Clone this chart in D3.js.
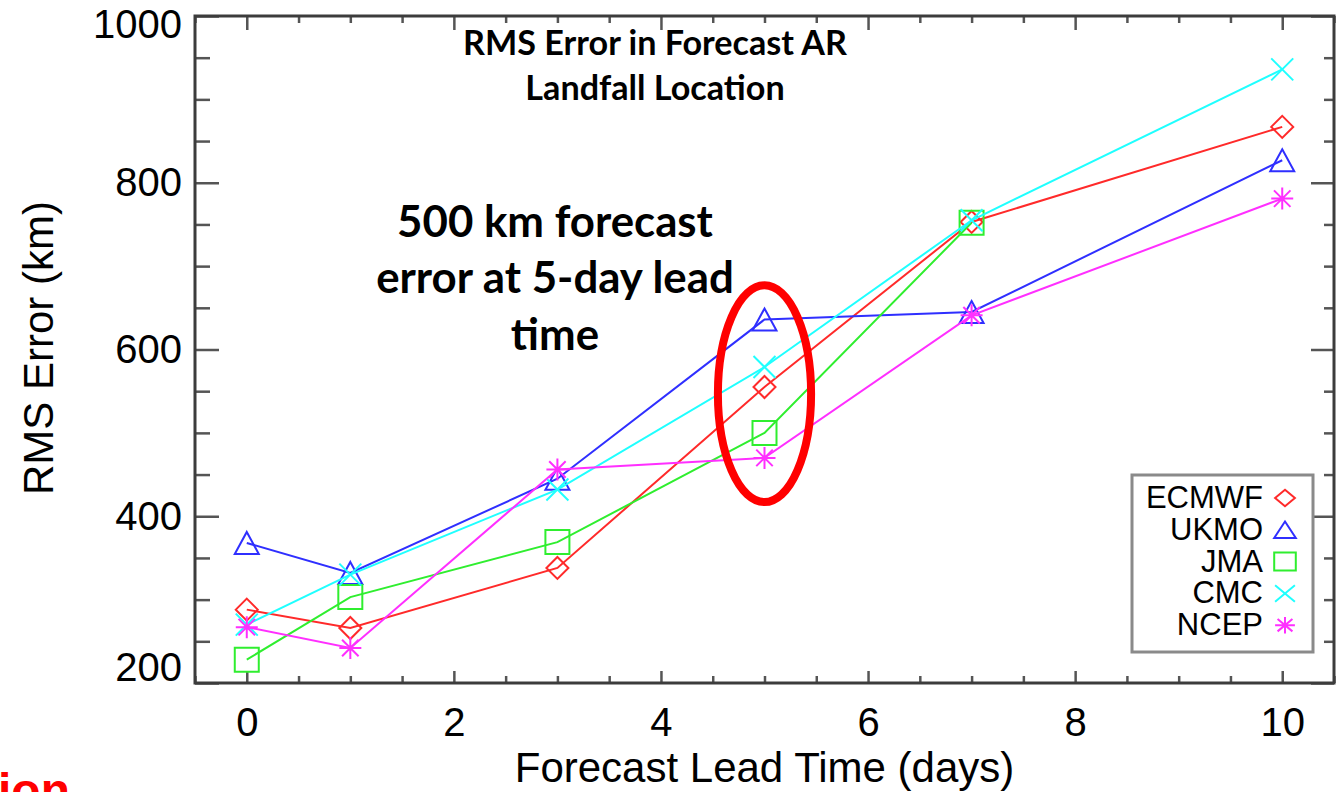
<!DOCTYPE html>
<html>
<head>
<meta charset="utf-8">
<script src="https://cdn.jsdelivr.net/npm/d3@7"></script>
<style>
  html, body { margin: 0; padding: 0; background: #fff; }
  svg { display: block; }
</style>
</head>
<body>
<div id="chart"></div>
<script>
// values
const days = [0, 1, 3, 5, 7, 10];
const seriesNames = ["ECMWF", "UKMO", "JMA", "CMC", "NCEP"];
const ecmwf = [288, 266, 338, 555, 753, 867];
const ukmo = [368, 332, 445, 636, 645, 827];
const jma = [228, 303, 369, 500, 752, null];
const cmc = [270, 330, 432, 579, 755, 936];
const ncep = [267, 242, 456, 470, 641, 781];
const xTicks = [0, 2, 4, 6, 8, 10];
const yTicks = [200, 400, 600, 800, 1000];
const titleLines = ["RMS Error in Forecast AR", "Landfall Location"];
const noteLines = ["500 km forecast", "error at 5-day lead", "time"];

const seriesValues = [ecmwf, ukmo, jma, cmc, ncep];
const colors = ["#ff2a2a", "#2f2fff", "#2fee2f", "#1fffff", "#ff2fff"];
const symbols = ["diamond", "triangle", "square", "cross", "asterisk"];

function initChart(selector) {
    const W = 1337, H = 792;
    const box = {left: 195, right: 1334, top: 16, bottom: 683};

    const x = d3.scaleLinear().domain([-0.5, 10.5]).range([box.left, box.right]);
    const y = d3.scaleLinear().domain([200, 1000]).range([box.bottom, box.top]);

    const svg = d3.select(selector).append("svg")
        .attr("width", W)
        .attr("height", H);
    svg.append("rect").attr("width", W).attr("height", H).attr("fill", "#fff");

    const tickColor = "#555";
    const minorX = d3.range(-0.5, 10.51, 0.5).filter(v => v % 2 !== 0);
    const minorY = d3.range(200, 1001, 50).filter(v => v % 200 !== 0);

    function ticks(axis, transform) {
        const g = svg.append("g").attr("transform", transform).call(axis);
        g.select(".domain").remove();
        g.selectAll(".tick line").attr("stroke", tickColor).attr("stroke-width", 2.5);
        return g;
    }

    // minor ticks on all four sides
    ticks(d3.axisBottom(x).tickValues(minorX).tickSize(-7).tickFormat(""), `translate(0,${box.bottom})`);
    ticks(d3.axisTop(x).tickValues(minorX).tickSize(-7).tickFormat(""), `translate(0,${box.top})`);
    ticks(d3.axisLeft(y).tickValues(minorY).tickSize(-15).tickFormat(""), `translate(${box.left},0)`);
    ticks(d3.axisRight(y).tickValues(minorY).tickSize(-10).tickFormat(""), `translate(${box.right},0)`);

    // major ticks
    const xAxis = ticks(d3.axisBottom(x).tickValues(xTicks).tickSize(-12).tickPadding(25)
        .tickFormat(d3.format("d")), `translate(0,${box.bottom})`);
    ticks(d3.axisTop(x).tickValues(xTicks).tickSize(-14).tickFormat(""), `translate(0,${box.top})`);
    const yAxis = ticks(d3.axisLeft(y).tickValues(yTicks).tickSize(-24).tickPadding(13)
        .tickFormat(d3.format("d")), `translate(${box.left},0)`);
    ticks(d3.axisRight(y).tickValues(yTicks).tickSize(-23).tickFormat(""), `translate(${box.right},0)`);

    [xAxis, yAxis].forEach(g => g.selectAll("text")
        .attr("fill", "#000")
        .attr("font-family", "Liberation Sans, Arial, sans-serif")
        .attr("font-size", 40));
    // end labels are pulled inside the frame
    yAxis.selectAll(".tick text")
        .attr("y", d => d === 1000 ? 9 : d === 200 ? -15 : 0);

    svg.append("rect")
        .attr("x", box.left).attr("y", box.top)
        .attr("width", box.right - box.left).attr("height", box.bottom - box.top)
        .attr("fill", "none").attr("stroke", "#3c3c3c").attr("stroke-width", 3);

    // axis titles
    svg.append("text")
        .attr("x", x(5)).attr("y", 782)
        .attr("text-anchor", "middle")
        .attr("font-family", "Liberation Sans, Arial, sans-serif")
        .attr("font-size", 42)
        .text("Forecast Lead Time (days)");
    svg.append("text")
        .attr("transform", "translate(53,348) rotate(-90)")
        .attr("text-anchor", "middle")
        .attr("font-family", "Liberation Sans, Arial, sans-serif")
        .attr("font-size", 42)
        .text("RMS Error (km)");

    // marker shapes
    function marker(g, type, color, sx, sy) {
        const s = 11;
        const p = g.append("path")
            .attr("fill", "none").attr("stroke", color).attr("stroke-width", 2);
        let d;
        if (type === "diamond") d = `M0,${-s}L${s},0L0,${s}L${-s},0Z`;
        else if (type === "triangle") d = `M0,${-s}L${s + 1},${s}L${-s - 1},${s}Z`;
        else if (type === "square") d = `M${-s - 1},${-s - 1}H${s + 1}V${s + 1}H${-s - 1}Z`;
        else if (type === "cross") d = `M${-s},${-s}L${s},${s}M${-s},${s}L${s},${-s}`;
        else d = `M0,${-s}V${s}M${-s},0H${s}M${-s * 0.75},${-s * 0.75}L${s * 0.75},${s * 0.75}M${-s * 0.75},${s * 0.75}L${s * 0.75},${-s * 0.75}`;
        p.attr("d", d);
        if (sx) p.attr("transform", `scale(${sx},${sy})`).attr("vector-effect", "non-scaling-stroke");
    }

    const line = d3.line()
        .defined(p => p.v != null)
        .x(p => x(p.d))
        .y(p => y(p.v));

    seriesValues.forEach((vals, i) => {
        const pts = days.map((d, j) => ({d: d, v: vals[j]}));
        svg.append("path")
            .datum(pts)
            .attr("fill", "none")
            .attr("stroke", colors[i])
            .attr("stroke-width", 2)
            .attr("d", line);
        pts.filter(p => p.v != null).forEach(p => {
            const g = svg.append("g").attr("transform", `translate(${x(p.d)},${y(p.v)})`);
            marker(g, symbols[i], colors[i]);
        });
    });

    // legend
    const lg = svg.append("g");
    lg.append("rect")
        .attr("x", 1132).attr("y", 475).attr("width", 181).attr("height", 177)
        .attr("fill", "#fff").attr("stroke", "#8a8a8a").attr("stroke-width", 3);
    seriesNames.forEach((name, i) => {
        const by = 508 + i * 31.8;
        lg.append("text")
            .attr("x", 1263).attr("y", by)
            .attr("text-anchor", "end")
            .attr("font-family", "Liberation Sans, Arial, sans-serif")
            .attr("font-size", 31)
            .text(name);
        const g = lg.append("g").attr("transform", `translate(1285,${by - 10})`);
        marker(g, symbols[i], colors[i], 0.9, 0.75);
    });

    // highlight ellipse around day 5
    svg.append("ellipse")
        .attr("cx", x(5)).attr("cy", y(547))
        .attr("rx", x(5.45) - x(5)).attr("ry", y(547) - y(677))
        .attr("fill", "none").attr("stroke", "#ff0000").attr("stroke-width", 8);

    // bold text blocks, sized to the widths seen in the picture
    function textBlock(lines, cx, baselines, firstWidth) {
        const t = lines.map((s, i) => svg.append("text")
            .attr("x", cx).attr("y", baselines[i])
            .attr("text-anchor", "middle")
            .attr("font-family", "Lato, 'Open Sans', sans-serif")
            .attr("font-weight", 700)
            .attr("font-size", 40)
            .text(s));
        const w = t[0].node().getComputedTextLength();
        t.forEach(e => e.attr("font-size", 40 * firstWidth / w));
    }
    textBlock(titleLines, 655, [55, 100], 384);
    textBlock(noteLines, 555, [237, 293, 350], 316);

    // cut-off slide text at the bottom left
    svg.append("text")
        .attr("x", -2).attr("y", 807)
        .attr("font-family", "Liberation Sans, Arial, sans-serif")
        .attr("font-weight", 700)
        .attr("font-size", 48)
        .attr("fill", "#ff0000")
        .text("ion");
}

document.addEventListener("DOMContentLoaded", function () {
    initChart("#chart");
});
</script>
</body>
</html>
